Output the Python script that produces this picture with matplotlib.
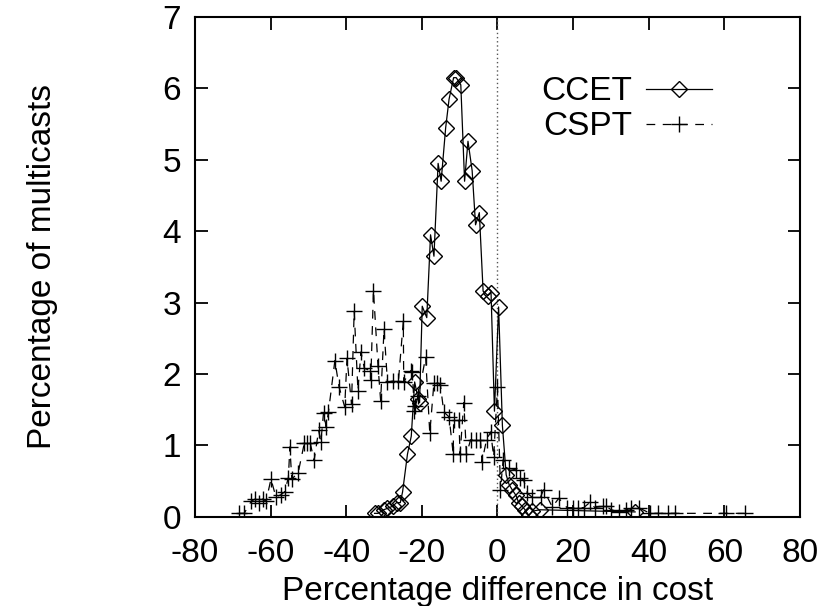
"""
Cost difference histogram: CCET vs CSPT multicast trees.
"""
import numpy as np
import matplotlib
matplotlib.use("Agg")
import matplotlib.pyplot as plt

plt.rcParams["font.family"] = ["Liberation Sans", "DejaVu Sans"]
plt.rcParams["axes.unicode_minus"] = False

# CCET: percentage difference in cost -> percentage of multicasts
ccet_x = [-32.5, -31.6, -30.1, -29.1, -27.7, -26.7, -25.7, -25.1, -23.8, -22.8,
          -21.9, -21.0, -20.6, -19.9, -18.7, -17.7, -16.8, -15.7, -14.9, -13.7,
          -12.8, -11.6, -10.9, -9.7, -8.7, -7.8, -6.7, -5.8, -4.8, -3.8,
          -2.5, -1.7, -0.8, 0.3, 1.3, 2.3, 3.1, 3.9, 4.9, 5.6,
          6.5, 7.3, 8.3, 9.2, 11.2, 36.4]
ccet_y = [0.05, 0.05, 0.1, 0.12, 0.15, 0.2, 0.2, 0.35, 0.88, 1.13,
          1.89, 1.65, 1.6, 2.95, 2.79, 3.95, 3.65, 4.95, 4.70, 5.45,
          5.85, 6.15, 6.15, 6.05, 4.70, 5.26, 4.85, 4.09, 4.26, 3.16,
          3.1, 3.14, 1.48, 2.94, 1.28, 0.59, 0.45, 0.38, 0.3, 0.2,
          0.15, 0.1, 0.02, 0.08, 0.1, 0.07]

# CSPT
cspt_x = [-68.3, -67.0, -65.1, -64.1, -63.1, -62.1, -61.2, -59.9, -58.6, -57.3,
          -56.3, -55.3, -54.9, -54.4, -52.7, -51.1, -50.3, -49.5, -48.5, -47.3,
          -46.7, -46.0, -45.3, -44.7, -43.0, -41.9, -40.4, -39.8, -38.6, -37.9,
          -36.9, -36.1, -35.2, -33.7, -33.5, -32.8, -31.6, -30.9, -30.0, -29.1,
          -27.7, -26.2, -24.9, -24.8, -22.9, -22.5, -22.0, -21.7, -20.9, -19.0,
          -17.9, -16.8, -15.9, -15.1, -14.2, -12.8, -11.7, -11.6, -10.2, -9.9,
          -8.9, -8.2, -7.1, -5.8, -4.5, -4.1, -2.9, -1.8, -1.0, 0.0,
          0.8, 1.5, 3.0, 4.8, 6.0, 6.9, 7.9, 9.1, 11.4, 12.2,
          14.5, 16.2, 18.4, 19.9, 21.4, 22.8, 24.6, 25.7, 28.0, 28.7,
          30.1, 32.2, 34.0, 35.4, 37.3, 40.4, 42.5, 45.2, 47.0, 60.4, 65.5]
cspt_y = [0.05, 0.05, 0.22, 0.25, 0.2, 0.25, 0.22, 0.53, 0.28, 0.31,
          0.35, 0.55, 0.98, 0.53, 0.62, 1.03, 1.03, 1.03, 0.79, 1.21,
          1.05, 1.46, 1.26, 1.47, 2.19, 1.82, 1.54, 2.22, 1.58, 2.88,
          1.77, 2.31, 2.08, 2.05, 1.92, 3.17, 2.12, 1.63, 2.63, 1.89,
          1.9, 1.9, 2.74, 1.89, 2.05, 2.03, 1.49, 1.56, 1.7, 2.24,
          1.17, 1.88, 1.88, 1.85, 1.47, 1.40, 0.88, 1.35, 1.35, 0.88,
          1.60, 0.88, 1.08, 1.08, 1.08, 0.77, 1.08, 1.19, 0.84, 1.82,
          0.38, 0.8, 0.68, 0.66, 0.54, 0.52, 0.33, 0.28, 0.28, 0.38,
          0.14, 0.26, 0.13, 0.13, 0.13, 0.13, 0.21, 0.13, 0.15, 0.15,
          0.1, 0.07, 0.1, 0.12, 0.13, 0.05, 0.05, 0.05, 0.05, 0.05, 0.05]

x_ticks = np.arange(-80, 81, 20)
y_ticks = np.arange(0, 8, 1)

fig = plt.figure(figsize=(8.22, 6.06), dpi=100)
ax = fig.add_axes([0.2372, 0.147, 0.736, 0.825])

ax.axvline(0, color="#555555", linestyle=(0, (1, 2)), lw=1.0)

ax.plot(ccet_x, ccet_y, color="black", lw=0.9, marker="D", ms=8,
        mfc="none", mec="black", mew=1.0, label="CCET")
ax.plot(cspt_x, cspt_y, color="black", lw=0.9, linestyle=(0, (7, 6)),
        marker="+", ms=11, mew=1.0, label="CSPT")

ax.set_xlim(-80, 80)
ax.set_ylim(0, 7)
ax.set_xticks(x_ticks)
ax.set_yticks(y_ticks)
ax.tick_params(direction="in", length=9, width=1.3, labelsize=24,
               top=True, right=True)
ax.tick_params(axis="x", pad=15)
ax.tick_params(axis="y", pad=10)
for s in ax.spines.values():
    s.set_linewidth(1.5)

ax.set_xlabel("Percentage difference in cost", fontsize=24)
ax.set_ylabel("Percentage of multicasts", fontsize=24)
ax.xaxis.set_label_coords(0.5, -0.118)
ax.yaxis.set_label_coords(-0.227, 0.5)

ax.legend(loc="upper right", bbox_to_anchor=(0.877, 0.908), frameon=False,
          markerfirst=False, fontsize=24, handlelength=2.0,
          handletextpad=0.4, labelspacing=0.12, borderaxespad=0)

fig.savefig("out.png", dpi=100)
